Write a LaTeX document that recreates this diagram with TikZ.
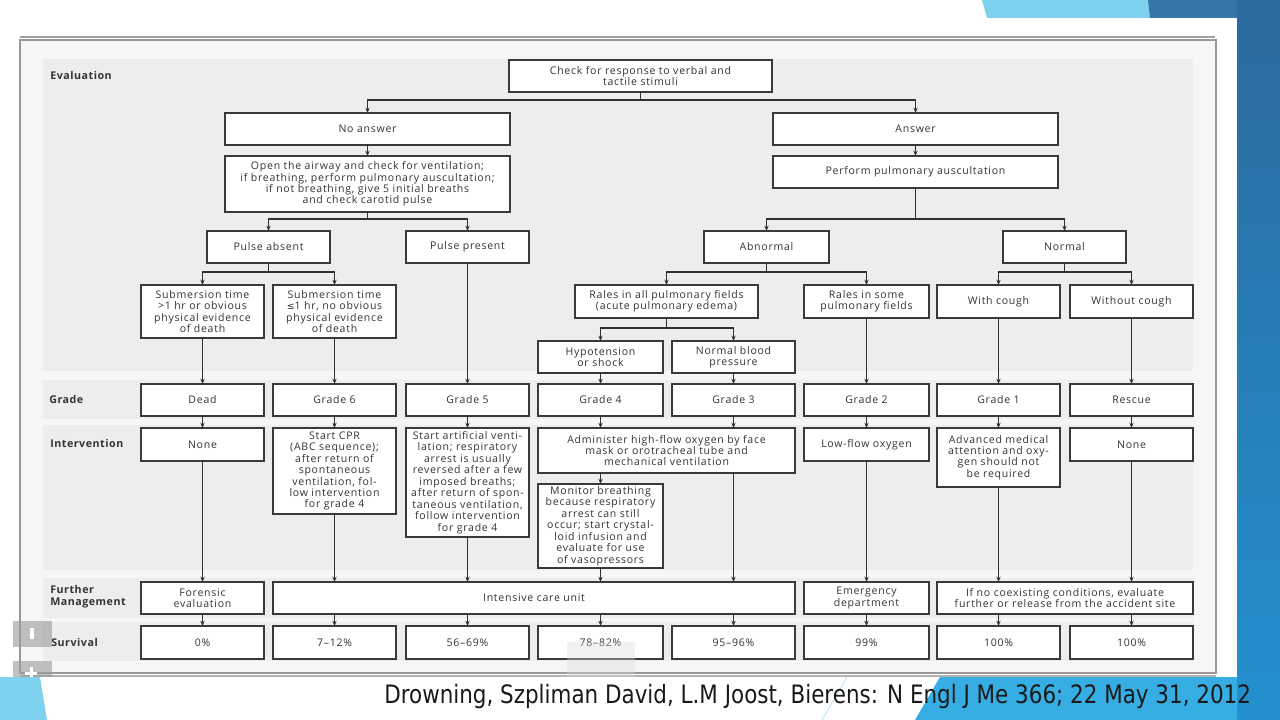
\documentclass[tikz,border=0pt]{standalone}
\usepackage{fontspec}
\usepackage{graphicx}
\setmainfont{Open Sans}
\newfontfamily\boxfont[LetterSpace=7]{Open Sans}
\newfontfamily\labfont[LetterSpace=5]{Open Sans}
\newfontfamily\capfont{DejaVu Sans}
\newfontfamily\symfont{DejaVu Sans}
\usetikzlibrary{arrows.meta}
\definecolor{boxline}{HTML}{3A3A3A}
\definecolor{lineclr}{HTML}{303030}
\definecolor{txt}{HTML}{333333}
\definecolor{framebg}{HTML}{F7F6F5}
\definecolor{bandbg}{HTML}{EEEDEC}
\definecolor{lblue}{HTML}{7FD2EF}
\definecolor{mblue}{HTML}{3677AB}
\definecolor{dblue}{HTML}{2B6B9F}
\definecolor{bblue}{HTML}{36ADE3}
\definecolor{sblue}{HTML}{2391CF}
\newcommand\bx[6]{\node[box, minimum width={(#4-#2)*0.75pt}, minimum height={(#5-#3)*0.75pt}] (#1) at ({(#2+#4)/2},{(#3+#5)/2}) {#6};}
\begin{document}
\begin{tikzpicture}[x=0.75pt,y=-0.75pt,
  box/.style={draw=boxline, line width=1.1pt, fill=white, inner sep=0pt, outer sep=0pt, align=center, text=txt, font=\boxfont\fontsize{7.9}{8.6}\selectfont},
  lab/.style={font=\labfont\bfseries\fontsize{8}{9}\selectfont, anchor=west, align=left, inner sep=0pt, text=txt},
  ln/.style={draw=lineclr, line width=0.9pt},
  arr/.style={draw=lineclr, line width=0.9pt, -{Stealth[length=4pt,width=3.2pt]}}]
\useasboundingbox (0,0) rectangle (1280,720);
% slide background and decorations
\fill[white] (0,0) rectangle (1280,720);
\fill[lblue] (982,0) -- (1150,0) -- (1152,18) -- (987,18) -- cycle;
\fill[mblue] (1148,0) -- (1280,0) -- (1280,18) -- (1150,18) -- cycle;
\fill[dblue] (1237,0) rectangle (1280,18);
\shade[top color=dblue, bottom color=sblue] (1237,18) rectangle (1280,720);
\fill[bblue] (915,720) -- (940,677) -- (1237,677) -- (1237,720) -- cycle;
\draw[lblue!70, line width=0.5pt] (822,720) -- (847,677);
\fill[lblue] (0,677) -- (40,677) -- (47,720) -- (0,720) -- cycle;
% screenshot frame
\draw[gray!75, line width=1.5pt] (20,37.5) -- (1215,37.5);
\fill[framebg] (20,40) rectangle (1216,673);
\draw[gray!80, line width=0.8pt] (20,40) rectangle (1216,673);
\draw[gray!60, line width=0.8pt] (20,676) -- (1216,676);
% bands
\fill[bandbg] (43,59) rectangle (1193,371);
\fill[bandbg] (43,380) rectangle (1193,419);
\fill[bandbg] (43,425) rectangle (1193,570);
\fill[bandbg] (43,578) rectangle (1193,618);
\fill[bandbg] (43,622) rectangle (1193,661);
% row labels
\node[lab] (lEval) at (50,76) {Evaluation};
\node[lab] (lGrade) at (49,399) {Grade};
\node[lab] (lInt) at (50,443) {Intervention};
\node[lab] (lFur) at (50,597) {Further\\Management};
\node[lab] (lSurv) at (51,642) {Survival};
% evaluation boxes
\bx{check}{509}{60}{772}{92}{Check for response to verbal and\\tactile stimuli}
\bx{noans}{225}{113}{510}{145}{No answer}
\bx{open}{225}{156}{510}{212}{Open the airway and check for ventilation;\\if breathing, perform pulmonary auscultation;\\if not breathing, give 5 initial breaths\\and check carotid pulse}
\bx{ans}{773}{113}{1058}{145}{Answer}
\bx{perf}{773}{156}{1058}{188}{Perform pulmonary auscultation}
\bx{pabs}{207}{231}{330}{263}{Pulse absent}
\bx{ppres}{406}{231}{529}{263}{Pulse present}
\bx{abn}{704}{231}{829}{263}{Abnormal}
\bx{norm}{1003}{231}{1126}{263}{Normal}
\bx{sub1}{141}{285}{264}{338}{Submersion time\\>1 hr or obvious\\physical evidence\\of death}
\bx{sub2}{273}{285}{396}{338}{Submersion time\\{\symfont\fontsize{7}{8}\selectfont ≤}1 hr, no obvious\\physical evidence\\of death}
\bx{rall}{575}{285}{758}{318}{Rales in all pulmonary fields\\(acute pulmonary edema)}
\bx{rsome}{804}{285}{929}{318}{Rales in some\\pulmonary fields}
\bx{wc}{937}{285}{1060}{318}{With cough}
\bx{woc}{1070}{285}{1193}{318}{Without cough}
\bx{hyp}{538}{341}{663}{373}{Hypotension\\or shock}
\bx{nbp}{672}{341}{795}{373}{Normal blood\\pressure}
% grade row
\bx{dead}{141}{384}{264}{416}{Dead}
\bx{g6}{273}{384}{396}{416}{Grade 6}
\bx{g5}{406}{384}{529}{416}{Grade 5}
\bx{g4}{538}{384}{663}{416}{Grade 4}
\bx{g3}{672}{384}{795}{416}{Grade 3}
\bx{g2}{804}{384}{929}{416}{Grade 2}
\bx{g1}{937}{384}{1060}{416}{Grade 1}
\bx{resc}{1070}{384}{1193}{416}{Rescue}
% intervention row
\bx{none1}{141}{428}{264}{461}{None}
\bx{cpr}{273}{428}{396}{514}{Start CPR\\(ABC sequence);\\after return of\\spontaneous\\ventilation, fol-\\low intervention\\for grade 4}
\bx{art}{406}{428}{529}{537}{Start artificial venti-\\lation; respiratory\\arrest is usually\\reversed after a few\\imposed breaths;\\after return of spon-\\taneous ventilation,\\follow intervention\\for grade 4}
\bx{adm}{538}{428}{795}{473}{Administer high-flow oxygen by face\\mask or orotracheal tube and\\mechanical ventilation}
\bx{mon}{538}{484}{663}{568}{Monitor breathing\\because respiratory\\arrest can still\\occur; start crystal-\\loid infusion and\\evaluate for use\\of vasopressors}
\bx{low}{804}{428}{929}{461}{Low-flow oxygen}
\bx{adv}{937}{428}{1060}{487}{Advanced medical\\attention and oxy-\\gen should not\\be required}
\bx{none2}{1070}{428}{1193}{461}{None}
% further management row
\bx{foren}{141}{582}{264}{614}{Forensic\\evaluation}
\bx{icu}{273}{582}{795}{614}{Intensive care unit}
\bx{emerg}{804}{582}{929}{614}{Emergency\\department}
\bx{ifno}{937}{582}{1193}{614}{If no coexisting conditions, evaluate\\further or release from the accident site}
% survival row
\bx{s0}{141}{626}{264}{659}{0\%}
\bx{s1}{273}{626}{396}{659}{7–12\%}
\bx{s2}{406}{626}{529}{659}{56–69\%}
\bx{s3}{538}{626}{663}{659}{78–82\%}
\bx{s4}{672}{626}{795}{659}{95–96\%}
\bx{s5}{804}{626}{929}{659}{99\%}
\bx{s6}{937}{626}{1060}{659}{100\%}
\bx{s7}{1070}{626}{1193}{659}{100\%}
% connectors: evaluation
\draw[ln] (check.south) -- ++(0,8) coordinate (j1);
\draw[arr] (j1) -| (noans.north);
\draw[arr] (j1) -| (ans.north);
\draw[arr] (noans.south) -- (open.north);
\draw[arr] (ans.south) -- (perf.north);
\draw[ln] (open.south) -- ++(0,7) coordinate (j2);
\draw[arr] (j2) -| (pabs.north);
\draw[arr] (j2) -| (ppres.north);
\draw[ln] (perf.south) -- ++(0,31) coordinate (j3);
\draw[arr] (j3) -| (abn.north);
\draw[arr] (j3) -| (norm.north);
\draw[ln] (pabs.south) -- ++(0,9) coordinate (j4);
\draw[arr] (j4) -| (sub1.north);
\draw[arr] (j4) -| (sub2.north);
\draw[ln] (abn.south) -- ++(0,9) coordinate (j5);
\draw[arr] (j5) -| (rall.north);
\draw[arr] (j5) -| (rsome.north);
\draw[ln] (norm.south) -- ++(0,9) coordinate (j6);
\draw[arr] (j6) -| (wc.north);
\draw[arr] (j6) -| (woc.north);
\draw[ln] (rall.south) -- ++(0,10) coordinate (j7);
\draw[arr] (j7) -| (hyp.north);
\draw[arr] (j7) -| (nbp.north);
% into grade row
\foreach \a/\b in {sub1/dead, sub2/g6, ppres/g5, hyp/g4, nbp/g3, rsome/g2, wc/g1, woc/resc}
  \draw[arr] (\b.north |- \a.south) -- (\b.north);
% grade to intervention
\foreach \a/\b in {dead/none1, g6/cpr, g5/art, g4/adm, g3/adm, g2/low, g1/adv, resc/none2}
  \draw[arr] (\a.south) -- (\a.south |- \b.north);
\draw[arr] (mon.north |- adm.south) -- (mon.north);
% intervention to further management
\foreach \a/\b in {none1/foren, cpr/icu, art/icu, mon/icu, low/emerg, adv/ifno, none2/ifno}
  \draw[arr] (\a.south) -- (\a.south |- \b.north);
\draw[arr] (g3.south |- adm.south) -- (g3.south |- icu.north);
% further management to survival
\foreach \a/\b in {foren/s0, icu/s1, icu/s2, icu/s3, icu/s4, emerg/s5, ifno/s6, ifno/s7}
  \draw[arr] (\b.north |- \a.south) -- (\b.north);
% viewer overlays
\fill[gray!80, opacity=0.6] (13,621) rectangle (52,647);
\fill[white] (30,628) rectangle (34,639);
\fill[gray!80, opacity=0.6] (13,661) rectangle (52,677);
\fill[white] (25,672) rectangle (37,675);
\fill[white] (29.5,667) rectangle (32.5,677);
\fill[gray!30, opacity=0.35] (567,642) rectangle (635,677);
% caption
\node[anchor=base west, inner sep=0pt, text=black!90] (cap) at (384,703) {\resizebox{650pt}{\height}{\capfont\fontsize{19}{22}\selectfont Drowning, Szpliman David, L.M Joost, Bierens: N Engl J Me 366; 22 May 31, 2012}};
\end{tikzpicture}
\end{document}
